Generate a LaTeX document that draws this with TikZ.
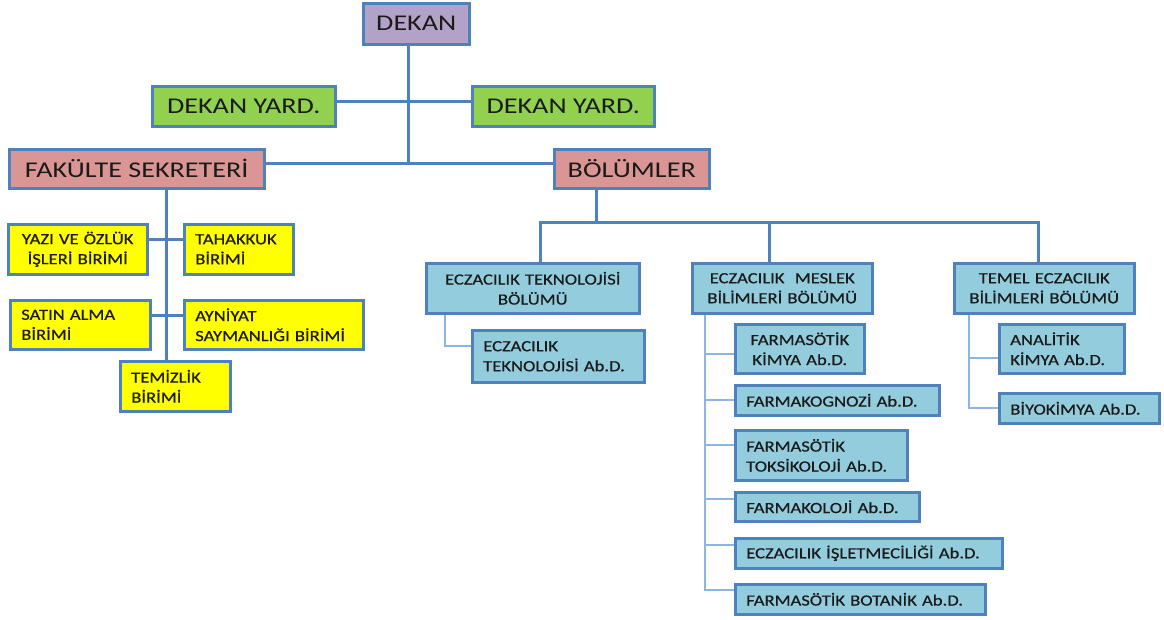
\documentclass[tikz,border=0pt]{standalone}
\usepackage{fontspec}
\usepackage{tikz}
\setmainfont{Carlito}
\newfontfamily\headfont[FakeStretch=1.25]{Carlito}
\newfontfamily\unitfont[FakeStretch=1.2,FakeBold=0.6]{Carlito}
\definecolor{edge}{HTML}{4F81BD}
\definecolor{thinedge}{HTML}{8EB4E3}
\definecolor{dekanfill}{HTML}{B3A2C7}
\definecolor{yardfill}{HTML}{92D050}
\definecolor{secfill}{HTML}{D99694}
\definecolor{unitfill}{HTML}{FFFF00}
\definecolor{deptfill}{HTML}{93CDDD}
\definecolor{ink}{HTML}{1A1A1A}

\begin{document}
\begin{tikzpicture}[x=1pt, y=-1pt,
    box/.style = {draw=edge, line width=2.5pt, anchor=north west, inner sep=0pt, text=ink},
    head/.style = {box, font=\headfont\fontsize{22.5}{26}\selectfont, align=center},
    unit/.style = {box, fill=unitfill, font=\unitfont\fontsize{15.5}{20}\selectfont, inner xsep=11pt, align=left},
    dept/.style = {unit, fill=deptfill, align=center},
    abd/.style = {unit, fill=deptfill},
    link/.style = {draw=edge, line width=3pt},
    sublink/.style = {draw=thinedge, line width=2pt}]
    \useasboundingbox (0,0) rectangle (1164,619);

    % top of the chart
    \node[head, fill=dekanfill, minimum width=106pt, minimum height=41pt] (dekan) at (362,2) {DEKAN};
    \node[head, fill=yardfill, minimum width=183pt, minimum height=40pt] (yardl) at (151,85) {DEKAN YARD.};
    \node[head, fill=yardfill, minimum width=182pt, minimum height=40pt] (yardr) at (471,85) {DEKAN YARD.};
    \node[head, fill=secfill, minimum width=255pt, minimum height=39pt] (sekr) at (8,148) {FAKÜLTE SEKRETERİ};
    \node[head, fill=secfill, minimum width=155pt, minimum height=39pt] (bol) at (553,148) {BÖLÜMLER};

    % units under the secretary
    \node[unit, text width=117pt, minimum height=50pt, align=center] (yazi) at (7,223) {YAZI VE ÖZLÜK\\İŞLERİ BİRİMİ};
    \node[unit, text width=87pt, minimum height=50pt] (tahakkuk) at (183,223) {TAHAKKUK\\BİRİMİ};
    \node[unit, text width=118pt, minimum height=49pt] (satin) at (9,299) {SATIN ALMA\\BİRİMİ};
    \node[unit, text width=157pt, minimum height=49pt] (ayniyat) at (183,299) {AYNİYAT\\SAYMANLIĞI BİRİMİ};
    \node[unit, text width=88pt, minimum height=50pt] (temizlik) at (119,360) {TEMİZLİK\\BİRİMİ};

    % departments
    \node[dept, text width=191pt, minimum height=50pt] (ecztek) at (425,262) {ECZACILIK TEKNOLOJİSİ\\BÖLÜMÜ};
    \node[dept, text width=158pt, minimum height=50pt] (meslek) at (691,262) {ECZACILIK~ MESLEK\\BİLİMLERİ BÖLÜMÜ};
    \node[dept, text width=158pt, minimum height=50pt] (temel) at (953,262) {TEMEL ECZACILIK\\BİLİMLERİ BÖLÜMÜ};

    % anabilim dallari
    \node[abd, text width=150pt, minimum height=52pt] (ecztekabd) at (471,329) {ECZACILIK\\TEKNOLOJİSİ Ab.D.};
    \node[abd, text width=107pt, minimum height=49pt, align=center] (fkimya) at (734,323) {FARMASÖTİK\\KİMYA Ab.D.};
    \node[abd, text width=182pt, minimum height=30pt] (fkognozi) at (734,384) {FARMAKOGNOZİ Ab.D.};
    \node[abd, text width=150pt, minimum height=50pt] (ftoks) at (734,429) {FARMASÖTİK\\TOKSİKOLOJİ Ab.D.};
    \node[abd, text width=162pt, minimum height=29pt] (fkoloji) at (734,491) {FARMAKOLOJİ Ab.D.};
    \node[abd, text width=245pt, minimum height=30pt] (isletme) at (734,537) {ECZACILIK İŞLETMECİLİĞİ Ab.D.};
    \node[abd, text width=228pt, minimum height=30pt] (botanik) at (734,583) {FARMASÖTİK BOTANİK Ab.D.};
    \node[abd, text width=103pt, minimum height=49pt] (analitik) at (998,323) {ANALİTİK\\KİMYA Ab.D.};
    \node[abd, text width=138pt, minimum height=30pt] (biyokimya) at (998,392) {BİYOKİMYA Ab.D.};

    % main lines
    \coordinate (spine) at (408,162);
    \coordinate (bus) at (596,222);
    \draw[link] (dekan.south -| spine) -- (spine);
    \draw[link] ([yshift=5pt]yardl.east) -- ([yshift=5pt]yardr.west);
    \draw[link] ([yshift=5.5pt]sekr.east) -- ([yshift=5.5pt]bol.west);
    \draw[link] ([xshift=30pt]sekr.south) -- ([xshift=30pt]sekr.south |- temizlik.north);
    \draw[link] ([yshift=10pt]yazi.east) -- ([yshift=10pt]tahakkuk.west);
    \draw[link] ([yshift=9pt]satin.east) -- ([yshift=9pt]ayniyat.west);
    \draw[link] (bol.south -| bus) -- (bus);
    \draw[link] ([xshift=7.5pt]ecztek.north) |- ([xshift=-6pt]temel.north |- bus) -- ([xshift=-6pt]temel.north);
    \draw[link] ([xshift=-13pt]meslek.north) -- ([xshift=-13pt]meslek.north |- bus);

    % thin lines
    \draw[sublink] ([xshift=20pt]ecztek.south west) |- ([yshift=10pt]ecztekabd.west);
    \foreach \n/\s in {fkimya/-5, fkognozi/0, ftoks/10, fkoloji/8, isletme/8, botanik/9}
        \draw[sublink] ([xshift=14pt]meslek.south west) |- ([yshift=\s pt]\n.west);
    \foreach \n/\s in {analitik/-9, biyokimya/0}
        \draw[sublink] ([xshift=16pt]temel.south west) |- ([yshift=\s pt]\n.west);
\end{tikzpicture}
\end{document}
